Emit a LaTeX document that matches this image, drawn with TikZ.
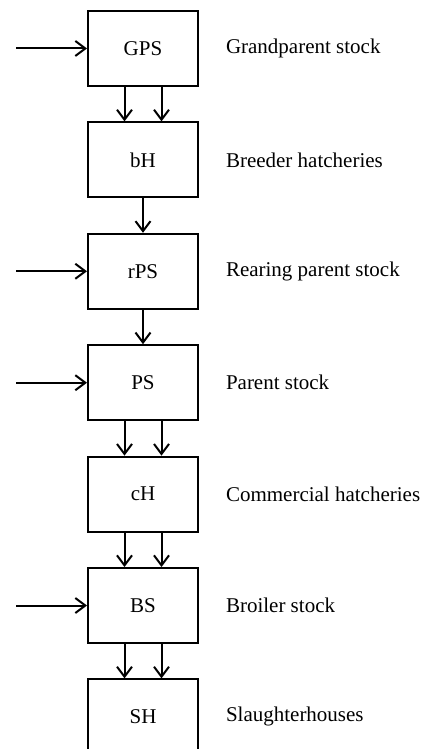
\documentclass[tikz,border=0pt]{standalone}
\usepackage{fontspec}
\setmainfont{Liberation Serif}
\usetikzlibrary{positioning,arrows.meta}

\begin{document}
\begin{tikzpicture}[->,>={Straight Barb[length=5pt,width=7.5pt]}, line width=1pt, node distance=17.2pt, font=\fontsize{10.5}{12}\selectfont]
		\tikzstyle{stage}=[draw, -, minimum width=55pt, minimum height=37.5pt, inner sep=0pt]
		\tikzstyle{lbl}=[inner sep=0pt, anchor=west]
		
		\useasboundingbox (0,0) rectangle (212pt,-374.5pt);
		
		\node [stage] (GPS) at (71.5pt,-24.25pt) {GPS};
		\node [stage, below=of GPS] (bH) {bH};
		\node [stage, below=of bH] (rPS) {rPS};
		\node [stage, below=of rPS] (PS) {PS};
		\node [stage, below=of PS] (cH) {cH};
		\node [stage, below=of cH] (BS) {BS};
		\node [stage, below=of BS] (SH) {SH};
		
		% labels on the right
		\node [lbl, right=13pt of GPS] (tGPS) {Grandparent stock};
		\node [lbl, right=13pt of bH] (tbH) {Breeder hatcheries};
		\node [lbl, right=13pt of rPS] (trPS) {Rearing parent stock};
		\node [lbl, right=13pt of PS] (tPS) {Parent stock};
		\node [lbl, right=13pt of cH] (tcH) {Commercial hatcheries};
		\node [lbl, right=13pt of BS] (tBS) {Broiler stock};
		\node [lbl, right=13pt of SH] (tSH) {Slaughterhouses};
		
		% inputs from the left
		\coordinate [left=35.5pt of GPS] (inGPS);
		\coordinate [left=35.5pt of rPS] (inrPS);
		\coordinate [left=35.5pt of PS] (inPS);
		\coordinate [left=35.5pt of BS] (inBS);
		\draw [->] (inGPS) to (GPS); \draw [->] (inrPS) to (rPS);
		\draw [->] (inPS) to (PS); \draw [->] (inBS) to (BS);
		
		\draw [->] ([xshift=-9.25pt]GPS.south) to ([xshift=-9.25pt]bH.north);
		\draw [->] ([xshift=9.25pt]GPS.south) to ([xshift=9.25pt]bH.north);
		\draw [->] (bH) to (rPS); \draw [->] (rPS) to (PS);
		\draw [->] ([xshift=-9.25pt]PS.south) to ([xshift=-9.25pt]cH.north);
		\draw [->] ([xshift=9.25pt]PS.south) to ([xshift=9.25pt]cH.north);
		\draw [->] ([xshift=-9.25pt]cH.south) to ([xshift=-9.25pt]BS.north);
		\draw [->] ([xshift=9.25pt]cH.south) to ([xshift=9.25pt]BS.north);
		\draw [->] ([xshift=-9.25pt]BS.south) to ([xshift=-9.25pt]SH.north);
		\draw [->] ([xshift=9.25pt]BS.south) to ([xshift=9.25pt]SH.north);
	\end{tikzpicture}
\end{document}
